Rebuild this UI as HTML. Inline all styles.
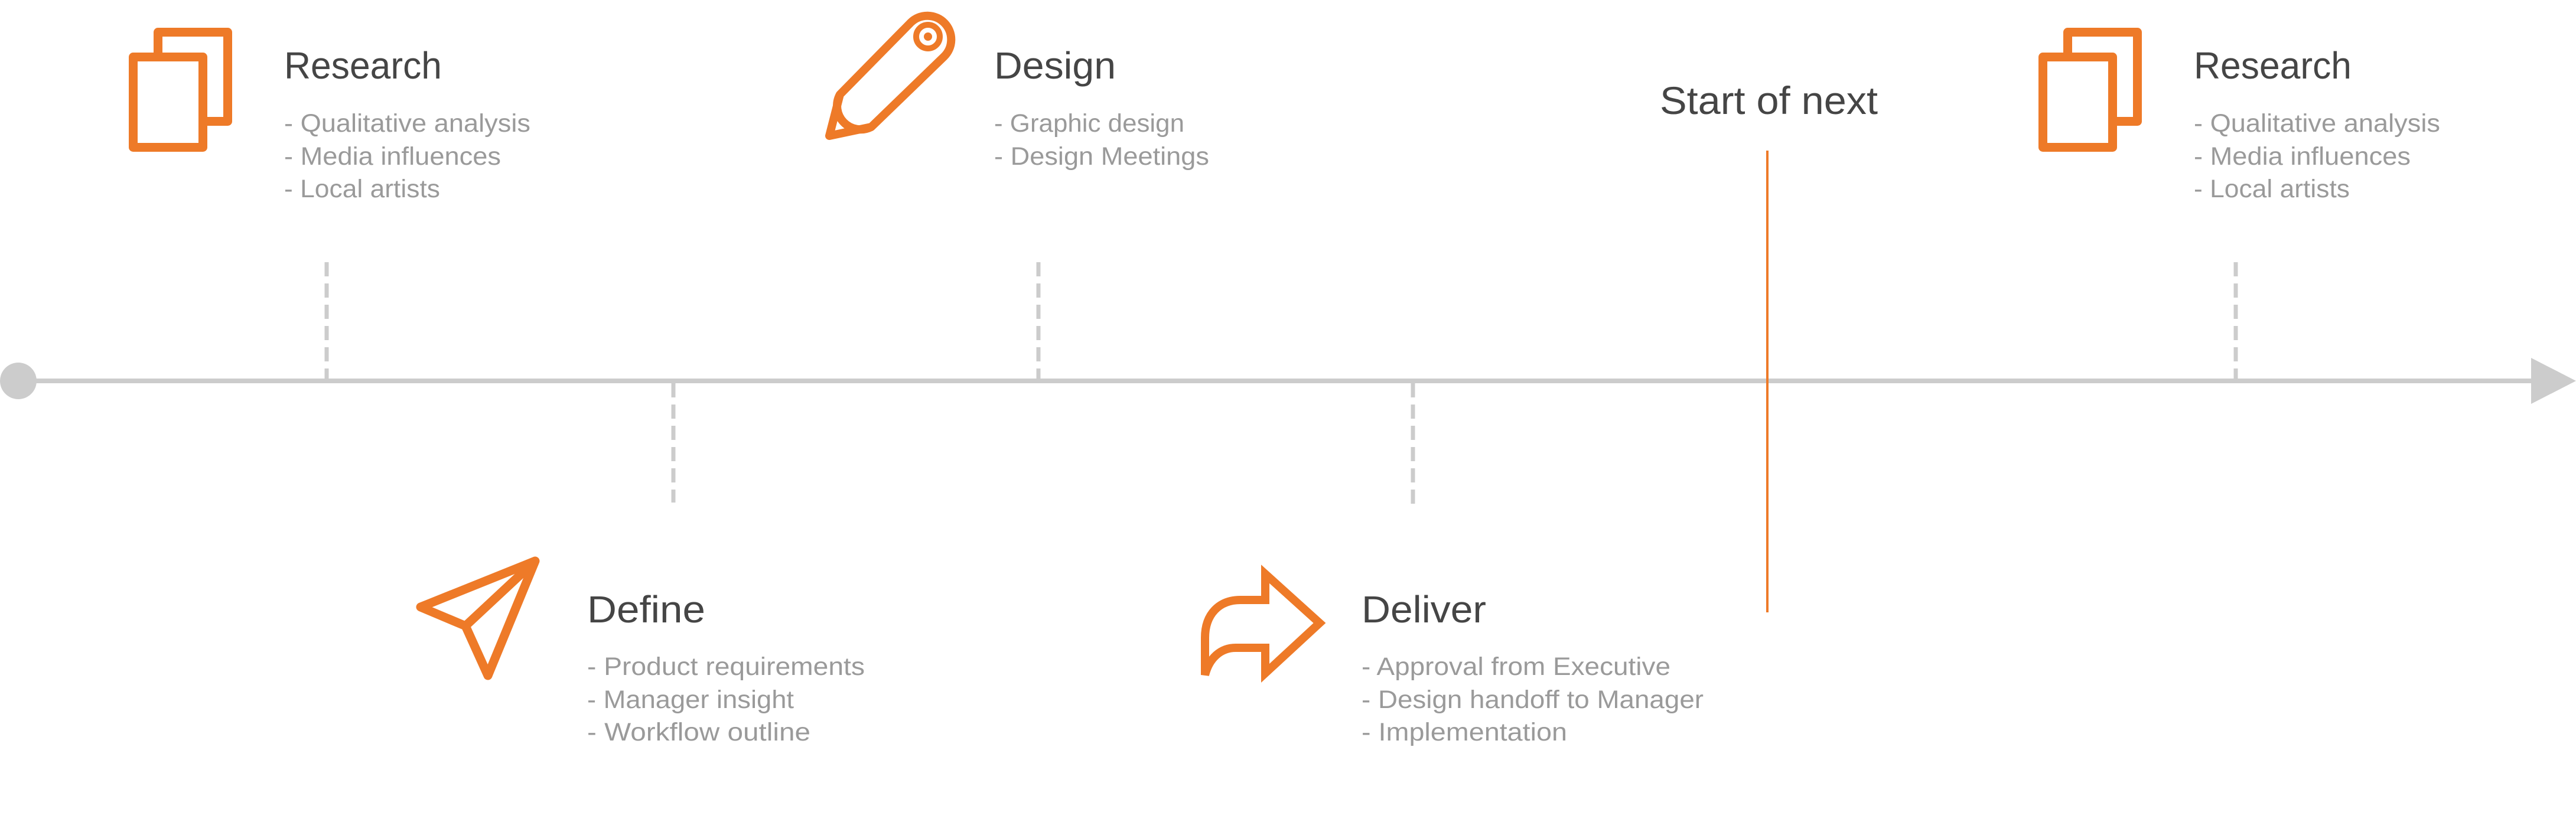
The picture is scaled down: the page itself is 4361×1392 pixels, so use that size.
<!DOCTYPE html>
<html><head><meta charset="utf-8"><style>
html,body{margin:0;padding:0;background:#fff;}
svg{display:block;}
.t{font-family:"Liberation Sans",sans-serif;font-size:64px;fill:#454545;}
.b{font-family:"Liberation Sans",sans-serif;font-size:43px;fill:#9a9a9a;}
.o{fill:none;stroke:#ee7a28;stroke-width:15;stroke-linejoin:round;}
</style></head><body>
<svg width="4361" height="1392" viewBox="0 0 4361 1392" xmlns="http://www.w3.org/2000/svg">
<!-- timeline -->
<line x1="31" y1="645" x2="4290" y2="645" stroke="#cccccc" stroke-width="8"/>
<circle cx="31" cy="645" r="31" fill="#cccccc"/>
<polygon points="4285,606 4361,645 4285,684" fill="#cccccc"/>
<g stroke="#cccccc" stroke-width="7" stroke-dasharray="24 12" fill="none">
<line x1="553" y1="444" x2="553" y2="645"/>
<line x1="1140" y1="649" x2="1140" y2="851"/>
<line x1="1758" y1="444" x2="1758" y2="645"/>
<line x1="2392" y1="649" x2="2392" y2="855"/>
<line x1="3785" y1="444" x2="3785" y2="645"/>
</g>
<line x1="2992" y1="255" x2="2992" y2="1037" stroke="#ee7a28" stroke-width="4"/>
<text class="t" x="2810" y="193" textLength="369" lengthAdjust="spacingAndGlyphs" style="font-size:66px">Start of next</text>

<!-- Research 1 -->
<g>
<rect class="o" x="267.5" y="54.5" width="118" height="151" fill="#fff"/>
<rect class="o" x="225.5" y="96.5" width="118" height="153" style="fill:#fff"/>
<text class="t" x="481" y="133" textLength="267" lengthAdjust="spacingAndGlyphs">Research</text>
<text class="b" x="481" y="223" textLength="417" lengthAdjust="spacingAndGlyphs">- Qualitative analysis</text>
<text class="b" x="481" y="279" textLength="367" lengthAdjust="spacingAndGlyphs">- Media influences</text>
<text class="b" x="481" y="334" textLength="264" lengthAdjust="spacingAndGlyphs">- Local artists</text>
</g>
<!-- Research 2 -->
<g transform="translate(3233,0)">
<rect class="o" x="267.5" y="54.5" width="118" height="151" fill="#fff"/>
<rect class="o" x="225.5" y="96.5" width="118" height="153" style="fill:#fff"/>
<text class="t" x="481" y="133" textLength="267" lengthAdjust="spacingAndGlyphs">Research</text>
<text class="b" x="481" y="223" textLength="417" lengthAdjust="spacingAndGlyphs">- Qualitative analysis</text>
<text class="b" x="481" y="279" textLength="367" lengthAdjust="spacingAndGlyphs">- Media influences</text>
<text class="b" x="481" y="334" textLength="264" lengthAdjust="spacingAndGlyphs">- Local artists</text>
</g>

<!-- Design -->
<g transform="translate(1370,10)">
<path class="o" style="stroke-width:14" d="M52,150 L172,28 A40 40 0 0 1 228,86 L105,205 L34,220 Z"/>
<path class="o" style="stroke-width:14" d="M52,150 A40 40 0 0 0 105,205"/>
<circle cx="201" cy="52" r="20" fill="none" stroke="#ee7a28" stroke-width="10"/>
<circle cx="201" cy="52" r="7" fill="#ee7a28"/>
</g>
<text class="t" x="1683" y="133" textLength="206" lengthAdjust="spacingAndGlyphs">Design</text>
<text class="b" x="1683" y="223" textLength="322" lengthAdjust="spacingAndGlyphs">- Graphic design</text>
<text class="b" x="1683" y="279" textLength="364" lengthAdjust="spacingAndGlyphs">- Design Meetings</text>

<!-- Define -->
<path class="o" style="stroke-width:15" d="M906,950 L712,1028 L788,1060 L826,1144 Z M788,1060 L906,950"/>
<text class="t" x="994" y="1054" textLength="200" lengthAdjust="spacingAndGlyphs">Define</text>
<text class="b" x="994" y="1143" textLength="470" lengthAdjust="spacingAndGlyphs">- Product requirements</text>
<text class="b" x="994" y="1199" textLength="350" lengthAdjust="spacingAndGlyphs">- Manager insight</text>
<text class="b" x="994" y="1254" textLength="378" lengthAdjust="spacingAndGlyphs">- Workflow outline</text>

<!-- Deliver -->
<g transform="translate(2000,940)">
<path class="o" style="stroke-width:14;stroke-linejoin:miter" d="M142,32 L234,115 L142,200 L142,157 L92,157 C66,157 47,175 40,203 L40,140 C40,100 64,76 100,76 L142,76 Z"/>
</g>
<text class="t" x="2305" y="1054" textLength="211" lengthAdjust="spacingAndGlyphs">Deliver</text>
<text class="b" x="2305" y="1143" textLength="523" lengthAdjust="spacingAndGlyphs">- Approval from Executive</text>
<text class="b" x="2305" y="1199" textLength="579" lengthAdjust="spacingAndGlyphs">- Design handoff to Manager</text>
<text class="b" x="2305" y="1254" textLength="348" lengthAdjust="spacingAndGlyphs">- Implementation</text>
</svg>
</body></html>
